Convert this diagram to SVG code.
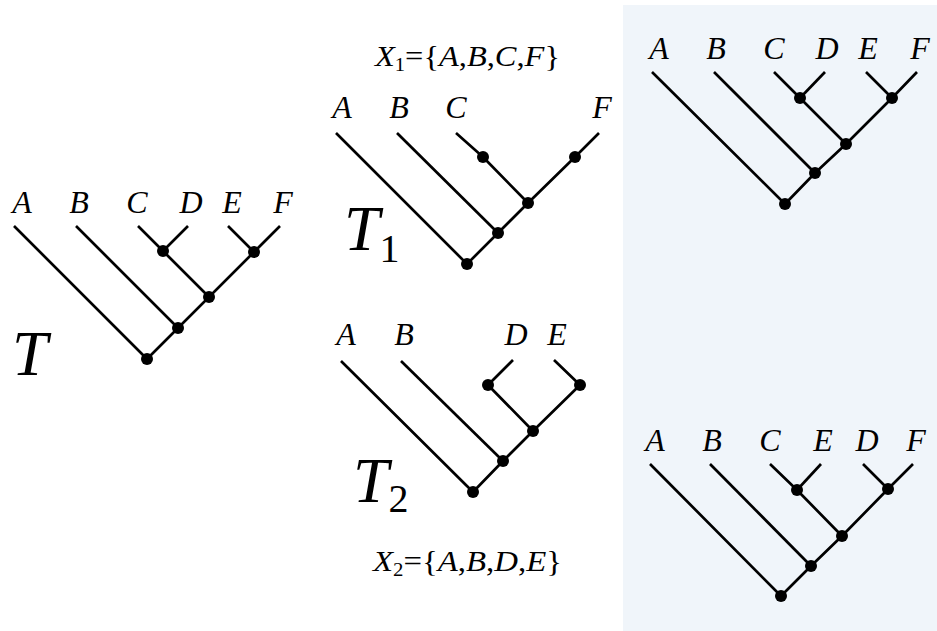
<svg xmlns="http://www.w3.org/2000/svg" width="937" height="631" viewBox="0 0 937 631">
<style>
.e{fill:none;stroke:#000;stroke-width:2.7;stroke-linecap:butt;stroke-linejoin:round}
.d{fill:#000}
.l{font-family:"Liberation Serif","Times New Roman",serif;font-style:italic;font-size:32px;fill:#000;text-anchor:middle}
.t{font-family:"Liberation Serif","Times New Roman",serif;font-style:italic;font-size:64px;fill:#000}
.s{font-family:"Liberation Serif","Times New Roman",serif;font-size:30px;fill:#000}
.i{font-style:italic}
</style>
<rect x="623" y="5" width="314" height="626" fill="#f0f5fa"/>
<g id="connectors">
<path class="e" d="M14,226 L147,359 L280,226"/>
<path class="e" d="M76,226 L178,328"/>
<path class="e" d="M138,226 L209,297"/>
<path class="e" d="M188,226 L163,251"/>
<path class="e" d="M228,226 L254,252"/>
<path class="e" d="M336,133 L467,264 L498,233 L528,203 L575,157 L599,133"/>
<path class="e" d="M397,133 L498,233"/>
<path class="e" d="M456,133 L483,157 L528,203"/>
<path class="e" d="M341,361 L473,492 L503,461 L533,431 L580,385 L554,360"/>
<path class="e" d="M401,361 L503,461"/>
<path class="e" d="M513,360 L488,385 L533,431"/>
<path class="e" d="M652,72 L785,204 L815,173 L846,144 L892,98 L917,72"/>
<path class="e" d="M714,72 L815,173"/>
<path class="e" d="M774,72 L800,98 L846,144"/>
<path class="e" d="M825,72 L800,98"/>
<path class="e" d="M866,72 L892,98"/>
<path class="e" d="M650,464 L781,596 L811,566 L842,536 L888,489 L913,464"/>
<path class="e" d="M710,464 L811,566"/>
<path class="e" d="M770,464 L797,490 L842,536"/>
<path class="e" d="M821,464 L797,490"/>
<path class="e" d="M863,464 L888,489"/>
</g>
<g id="tree-T">
<circle class="d" cx="147" cy="359" r="6"/>
<circle class="d" cx="178" cy="328" r="6"/>
<circle class="d" cx="209" cy="297" r="6"/>
<circle class="d" cx="163" cy="251" r="6"/>
<circle class="d" cx="254" cy="252" r="6"/>
<text class="l" x="22" y="213">A</text>
<text class="l" x="79" y="213">B</text>
<text class="l" x="137" y="213">C</text>
<text class="l" x="191" y="213">D</text>
<text class="l" x="232" y="213">E</text>
<text class="l" x="283" y="213">F</text>
<text class="t" x="12" y="375">T</text>
</g>
<g id="tree-T1">
<circle class="d" cx="467" cy="264" r="6"/>
<circle class="d" cx="498" cy="233" r="6"/>
<circle class="d" cx="528" cy="203" r="6"/>
<circle class="d" cx="483" cy="157" r="6"/>
<circle class="d" cx="575" cy="157" r="6"/>
<text class="l" x="342" y="118">A</text>
<text class="l" x="399" y="118">B</text>
<text class="l" x="456" y="118">C</text>
<text class="l" x="602" y="118">F</text>
<text class="t" x="344" y="250">T<tspan font-style="normal" font-size="40" dy="12">1</tspan></text>
<text class="s" x="375" y="66" textLength="185" lengthAdjust="spacingAndGlyphs"><tspan class="i">X</tspan><tspan font-size="19" dy="5">1</tspan><tspan dy="-5">={</tspan><tspan class="i">A</tspan>,<tspan class="i">B</tspan>,<tspan class="i">C</tspan>,<tspan class="i">F</tspan>}</text>
</g>
<g id="tree-T2">
<circle class="d" cx="473" cy="492" r="6"/>
<circle class="d" cx="503" cy="461" r="6"/>
<circle class="d" cx="533" cy="431" r="6"/>
<circle class="d" cx="488" cy="385" r="6"/>
<circle class="d" cx="580" cy="385" r="6"/>
<text class="l" x="346" y="345">A</text>
<text class="l" x="404" y="345">B</text>
<text class="l" x="516" y="345">D</text>
<text class="l" x="557" y="345">E</text>
<text class="t" x="353" y="502">T<tspan font-style="normal" font-size="40" dy="10">2</tspan></text>
<text class="s" x="373" y="571" textLength="189" lengthAdjust="spacingAndGlyphs"><tspan class="i">X</tspan><tspan font-size="19" dy="5">2</tspan><tspan dy="-5">={</tspan><tspan class="i">A</tspan>,<tspan class="i">B</tspan>,<tspan class="i">D</tspan>,<tspan class="i">E</tspan>}</text>
</g>
<g id="tree-top-right">
<circle class="d" cx="785" cy="204" r="6"/>
<circle class="d" cx="815" cy="173" r="6"/>
<circle class="d" cx="846" cy="144" r="6"/>
<circle class="d" cx="800" cy="98" r="6"/>
<circle class="d" cx="892" cy="98" r="6"/>
<text class="l" x="659" y="59">A</text>
<text class="l" x="716" y="59">B</text>
<text class="l" x="774" y="59">C</text>
<text class="l" x="827" y="59">D</text>
<text class="l" x="868" y="59">E</text>
<text class="l" x="920" y="59">F</text>
</g>
<g id="tree-bottom-right">
<circle class="d" cx="781" cy="596" r="6"/>
<circle class="d" cx="811" cy="566" r="6"/>
<circle class="d" cx="842" cy="536" r="6"/>
<circle class="d" cx="797" cy="490" r="6"/>
<circle class="d" cx="888" cy="489" r="6"/>
<text class="l" x="655" y="451">A</text>
<text class="l" x="712" y="451">B</text>
<text class="l" x="770" y="451">C</text>
<text class="l" x="823" y="451">E</text>
<text class="l" x="867" y="451">D</text>
<text class="l" x="916" y="451">F</text>
</g>
</svg>
